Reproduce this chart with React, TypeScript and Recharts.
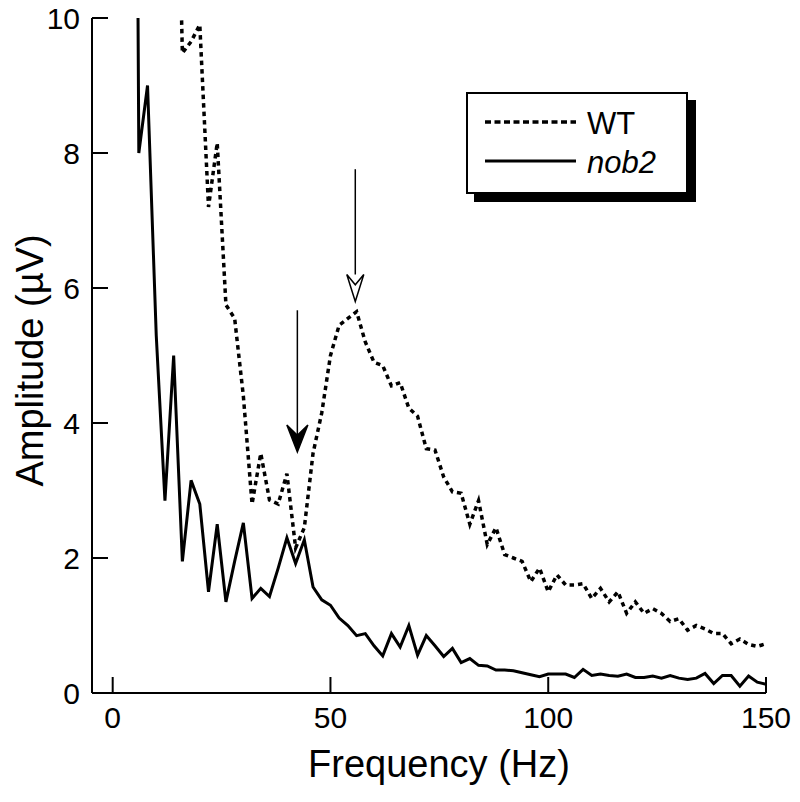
import React from "react";
import {
  LineChart,
  Line,
  XAxis,
  YAxis,
  Legend,
  ReferenceLine,
} from "recharts";

// frequency bins (Hz)
const freqs = [
  4, 6, 8, 10, 12, 14, 16, 18, 20, 22,
  24, 26, 28, 30, 32, 34, 36, 38, 40, 42,
  44, 46, 48, 50, 52, 54, 56, 58, 60, 62,
  64, 66, 68, 70, 72, 74, 76, 78, 80, 82,
  84, 86, 88, 90, 92, 94, 96, 98, 100, 102,
  104, 106, 108, 110, 112, 114, 116, 118, 120, 122,
  124, 126, 128, 130, 132, 134, 136, 138, 140, 142,
  144, 146, 148, 150,
];

// amplitude, µV
const wtValues = [
  null, null, null, null, null, 15, 9.48, 9.65, 9.9, 7.2,
  8.15, 5.75, 5.55, 4.4, 2.8, 3.55, 2.86, 2.8, 3.25, 2.15,
  2.45, 3.55, 4.15, 5.0, 5.45, 5.55, 5.65, 5.2, 4.9, 4.85,
  4.55, 4.6, 4.22, 4.1, 3.62, 3.6, 3.2, 2.98, 2.96, 2.5,
  2.85, 2.2, 2.45, 2.05, 2.0, 1.95, 1.65, 1.85, 1.5, 1.75,
  1.6, 1.6, 1.62, 1.4, 1.55, 1.35, 1.5, 1.18, 1.35, 1.18,
  1.25, 1.18, 1.06, 1.1, 0.93, 1.0, 0.95, 0.88, 0.88, 0.73,
  0.8, 0.72, 0.69, 0.73,
];

const nob2Values = [
  30, 8.0, 9.0, 5.3, 2.85, 5.0, 1.95, 3.15, 2.8, 1.5,
  2.5, 1.35, 1.95, 2.52, 1.4, 1.55, 1.43, 1.85, 2.3, 1.92,
  2.27, 1.57, 1.38, 1.3, 1.11, 1.0, 0.85, 0.88, 0.7, 0.55,
  0.88, 0.68, 1.0, 0.56, 0.85, 0.7, 0.54, 0.66, 0.45, 0.51,
  0.41, 0.4, 0.34, 0.34, 0.33, 0.3, 0.27, 0.24, 0.28, 0.28,
  0.28, 0.23, 0.35, 0.26, 0.28, 0.26, 0.25, 0.28, 0.23, 0.23,
  0.25, 0.22, 0.26, 0.22, 0.2, 0.22, 0.29, 0.14, 0.26, 0.26,
  0.1, 0.25, 0.16, 0.13,
];

const xTicks = [0, 50, 100, 150];
const yTicks = [0, 2, 4, 6, 8, 10];

// annotation arrows: x in Hz, tail/tip in µV
const arrows = [
  { freq: 42.4, tail: 5.67, tip: 3.57, filled: true },
  { freq: 55.7, tail: 7.76, tip: 5.8, filled: false },
];

const data = freqs.map((f, i) => ({
  freq: f,
  wt: wtValues[i],
  nob2: nob2Values[i],
}));

const FONT = "'Liberation Sans', Arial, Helvetica, sans-serif";

function XTick(props: any) {
  const { x, y, payload } = props;
  return (
    <g>
      <line x1={x} x2={x} y1={y} y2={y - 16} stroke="#000" strokeWidth={2} />
      <text x={x} y={y + 35} textAnchor="middle" fontSize={30} fontFamily={FONT} fill="#000">
        {payload.value}
      </text>
    </g>
  );
}

function YTick(props: any) {
  const { x, y, payload } = props;
  return (
    <g>
      <line x1={x} x2={x + 16} y1={y} y2={y} stroke="#000" strokeWidth={2} />
      <text x={x - 12} y={y + 11} textAnchor="end" fontSize={30} fontFamily={FONT} fill="#000">
        {payload.value}
      </text>
    </g>
  );
}

function makeArrow(filled: boolean) {
  return (props: any) => {
    const { x1, y1, x2, y2 } = props;
    if (x1 == null) return null;
    const x = x1;
    const top = Math.min(y1, y2);
    const tipY = Math.max(y1, y2);
    const len = 27;
    const half = filled ? 10.5 : 8.5;
    const back = tipY - len;
    const notch = tipY - len * 0.62;
    return (
      <g>
        <line x1={x} x2={x} y1={top} y2={filled ? notch : back} stroke="#000" strokeWidth={1.5} />
        <polygon
          points={`${x},${tipY} ${x - half},${back} ${x},${notch} ${x + half},${back}`}
          fill={filled ? "#000" : "#fff"}
          stroke="#000"
          strokeWidth={1.5}
        />
      </g>
    );
  };
}

function LegendBox(props: any) {
  const items = props.payload || [];
  return (
    <div
      style={{
        width: 218,
        height: 98,
        border: "2px solid #000",
        background: "#fff",
        boxShadow: "8px 8px 0 #000",
      }}
    >
      <svg width={218} height={98}>
        {items.map((it: any, i: number) => {
          const y = 28 + i * 39;
          const dashed = it.value === "WT";
          return (
            <g key={it.value}>
              <line
                x1={17}
                x2={108}
                y1={y}
                y2={y}
                stroke="#000"
                strokeWidth={dashed ? 3.5 : 3}
                strokeDasharray={dashed ? "6 3.5" : undefined}
              />
              <text
                x={119}
                y={y + 12}
                fontSize={31}
                fontFamily={FONT}
                fontStyle={dashed ? "normal" : "italic"}
                fill="#000"
              >
                {it.value}
              </text>
            </g>
          );
        })}
      </svg>
    </div>
  );
}

export default function App() {
  return (
    <div style={{ position: "absolute", left: 0, top: 0, width: 800, height: 802, background: "#fff" }}>
      <LineChart
        width={800}
        height={802}
        data={data}
        margin={{ top: 18, right: 34, bottom: 0, left: 0 }}
      >
        <XAxis
          dataKey="freq"
          type="number"
          domain={[-4.75, 150]}
          allowDataOverflow
          ticks={xTicks}
          interval={0}
          height={109}
          axisLine={{ stroke: "#000", strokeWidth: 2 }}
          tickLine={false}
          tickSize={0}
          tickMargin={0}
          tick={XTick}
          label={{
            content: (p: any) => {
              const vb = p.viewBox || { x: 92, y: 693, width: 674 };
              return (
                <text
                  x={vb.x + vb.width / 2 + 10}
                  y={vb.y + 84}
                  textAnchor="middle"
                  fontSize={38}
                  fontFamily={FONT}
                  fill="#000"
                >
                  Frequency (Hz)
                </text>
              );
            },
          }}
        />
        <YAxis
          type="number"
          domain={[0, 10]}
          allowDataOverflow
          ticks={yTicks}
          interval={0}
          width={92}
          axisLine={{ stroke: "#000", strokeWidth: 2 }}
          tickLine={false}
          tickSize={0}
          tickMargin={0}
          tick={YTick}
          label={{
            content: (p: any) => {
              const vb = p.viewBox || { x: 0, y: 18, height: 675 };
              const cy = vb.y + vb.height / 2 + 5;
              return (
                <text
                  transform={`translate(43,${cy}) rotate(-90)`}
                  textAnchor="middle"
                  fontSize={38}
                  fontFamily={FONT}
                  fill="#000"
                >
                  Amplitude (µV)
                </text>
              );
            },
          }}
        />
        <Legend
          layout="horizontal"
          verticalAlign="middle"
          align="center"
          content={LegendBox}
          wrapperStyle={{ position: "absolute", left: 466, top: 92, width: "auto", height: "auto" }}
        />
        <Line
          type="linear"
          dataKey="wt"
          name="WT"
          stroke="#000"
          strokeWidth={3.5}
          strokeDasharray="4.5 4"
          dot={false}
          activeDot={false}
          isAnimationActive={false}
        />
        <Line
          type="linear"
          dataKey="nob2"
          name="nob2"
          stroke="#000"
          strokeWidth={3}
          dot={false}
          activeDot={false}
          isAnimationActive={false}
        />
        {arrows.map((a) => (
          <ReferenceLine
            key={a.freq}
            segment={[
              { x: a.freq, y: a.tail },
              { x: a.freq, y: a.tip },
            ]}
            ifOverflow="visible"
            shape={makeArrow(a.filled)}
          />
        ))}
      </LineChart>
    </div>
  );
}
